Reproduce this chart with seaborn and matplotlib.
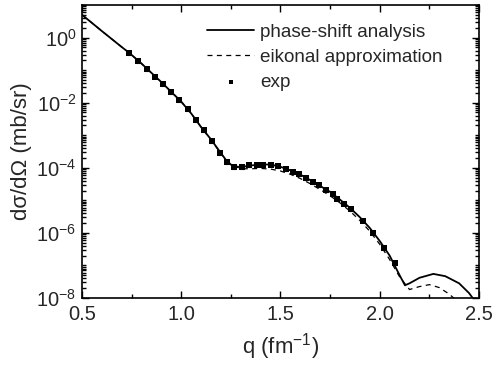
import numpy as np
import pandas as pd
import matplotlib
matplotlib.use("Agg")
import matplotlib.pyplot as plt
import matplotlib.ticker as mticker
import seaborn as sns

# ---- data (log10 of cross section) ----
q_phase = [0.50, 0.60, 0.70, 0.74, 0.80, 0.90, 1.00, 1.05, 1.10, 1.15, 1.20, 1.23, 1.26,
           1.30, 1.35, 1.40, 1.45, 1.50, 1.55, 1.60, 1.65, 1.70, 1.75, 1.80, 1.85,
           1.90, 1.95, 2.00, 2.05, 2.10, 2.127, 2.15, 2.20, 2.27, 2.33, 2.40, 2.45, 2.48]
log_phase = [0.70, 0.20, -0.29, -0.48, -0.80, -1.37, -1.97, -2.33, -2.75, -3.13, -3.55, -3.80, -3.95,
             -3.98, -3.93, -3.90, -3.90, -3.97, -4.08, -4.21, -4.38, -4.56, -4.74, -4.98, -5.23,
             -5.52, -5.85, -6.25, -6.70, -7.30, -7.61, -7.55, -7.38, -7.26, -7.33, -7.55, -7.85, -8.10]

q_eik = [0.50, 0.60, 0.70, 0.74, 0.80, 0.90, 1.00, 1.05, 1.10, 1.15, 1.20, 1.25,
         1.30, 1.35, 1.40, 1.45, 1.50, 1.55, 1.60, 1.65, 1.70, 1.75, 1.80, 1.85,
         1.90, 1.95, 2.00, 2.05, 2.10, 2.15, 2.20, 2.25, 2.30, 2.35, 2.40]
log_eik = [0.70, 0.20, -0.29, -0.48, -0.80, -1.37, -1.97, -2.33, -2.75, -3.14, -3.57, -3.90,
           -4.03, -4.03, -4.02, -4.04, -4.10, -4.20, -4.33, -4.49, -4.67, -4.86, -5.08, -5.33,
           -5.62, -5.95, -6.35, -6.82, -7.35, -7.74, -7.65, -7.59, -7.68, -7.88, -8.15]

q_exp = [0.738, 0.781, 0.826, 0.869, 0.910, 0.950, 0.990, 1.032, 1.074, 1.114, 1.156, 1.193,
         1.229, 1.267, 1.305, 1.343, 1.380, 1.413, 1.452, 1.489, 1.528, 1.561, 1.595,
         1.628, 1.665, 1.695, 1.729, 1.762, 1.787, 1.821, 1.855, 1.914, 1.967, 2.021, 2.077]
log_exp = [-0.48, -0.72, -0.96, -1.20, -1.43, -1.67, -1.91, -2.20, -2.53, -2.85, -3.19, -3.55,
           -3.82, -3.97, -3.97, -3.92, -3.90, -3.90, -3.90, -3.96, -4.03, -4.13, -4.19,
           -4.32, -4.43, -4.54, -4.68, -4.80, -4.95, -5.10, -5.27, -5.62, -6.00, -6.46, -6.92]
exp_rel_err = [0.12] * len(q_exp)

xticks = [0.5, 1.0, 1.5, 2.0, 2.5]
xticklabels = ["0.5", "1.0", "1.5", "2.0", "2.5"]
yticks = [1e-8, 1e-6, 1e-4, 1e-2, 1e0]
yticklabels = ["$10^{-8}$", "$10^{-6}$", "$10^{-4}$", "$10^{-2}$", "$10^{0}$"]

sns.set_theme(style="ticks")
plt.rcParams["font.family"] = ["Liberation Sans", "DejaVu Sans"]
plt.rcParams["mathtext.fontset"] = "custom"
plt.rcParams["mathtext.rm"] = "Liberation Sans"
plt.rcParams["mathtext.it"] = "Liberation Sans"

fig = plt.figure(figsize=(4.93, 3.65), dpi=100)
ax = fig.add_axes([0.1663, 0.1836, 0.8053, 0.8027])

df_phase = pd.DataFrame({"q": q_phase, "s": 10 ** np.array(log_phase)})
df_eik = pd.DataFrame({"q": q_eik, "s": 10 ** np.array(log_eik)})
s_exp = 10 ** np.array(log_exp)
df_exp = pd.DataFrame({"q": q_exp, "s": s_exp})

sns.lineplot(data=df_phase, x="q", y="s", ax=ax, color="black", lw=1.3,
             label="phase-shift analysis", sort=False)
sns.lineplot(data=df_eik, x="q", y="s", ax=ax, color="black", lw=0.9,
             linestyle=(0, (4, 3.5)), label="eikonal approximation", sort=False)
ax.errorbar(q_exp, s_exp, yerr=s_exp * np.array(exp_rel_err), fmt="none",
            ecolor="black", elinewidth=0.8, capsize=1.5, capthick=0.8)
sns.scatterplot(data=df_exp, x="q", y="s", ax=ax, color="black", marker="s",
                s=13, edgecolor="black", linewidth=0, label="exp", zorder=5)

ax.set_yscale("log")
ax.set_xlim(0.5, 2.5)
ax.set_ylim(1e-8, 1e1)
ax.set_xticks(xticks)
ax.set_xticklabels(xticklabels)
ax.xaxis.set_minor_locator(mticker.MultipleLocator(0.25))
ax.set_yticks(yticks)
ax.set_yticklabels(yticklabels)
ax.yaxis.set_minor_locator(mticker.LogLocator(base=10, subs=np.arange(1, 10), numticks=30))
ax.yaxis.set_minor_formatter(mticker.NullFormatter())

ax.tick_params(which="both", direction="in", top=True, right=True, color="black",
               labelsize=14.5, width=1.0)
ax.tick_params(which="major", length=5)
ax.tick_params(axis="x", which="major", pad=5)
ax.tick_params(axis="y", which="major", pad=4)
ax.tick_params(which="minor", length=3)
for sp in ax.spines.values():
    sp.set_color("black")
    sp.set_linewidth(1.2)

ax.set_xlabel("q (fm$^{-1}$)", fontsize=16, labelpad=5)
ax.set_ylabel("dσ/dΩ (mb/sr)", fontsize=16, labelpad=3)

leg = ax.legend(loc="upper left", frameon=False, fontsize=13.6, handlelength=2.5,
                handletextpad=0.3, labelspacing=0.42, borderaxespad=0.0,
                borderpad=0.4, markerscale=0.9,
                bbox_to_anchor=(0.296, 0.962))

fig.savefig("out.png", dpi=100)
